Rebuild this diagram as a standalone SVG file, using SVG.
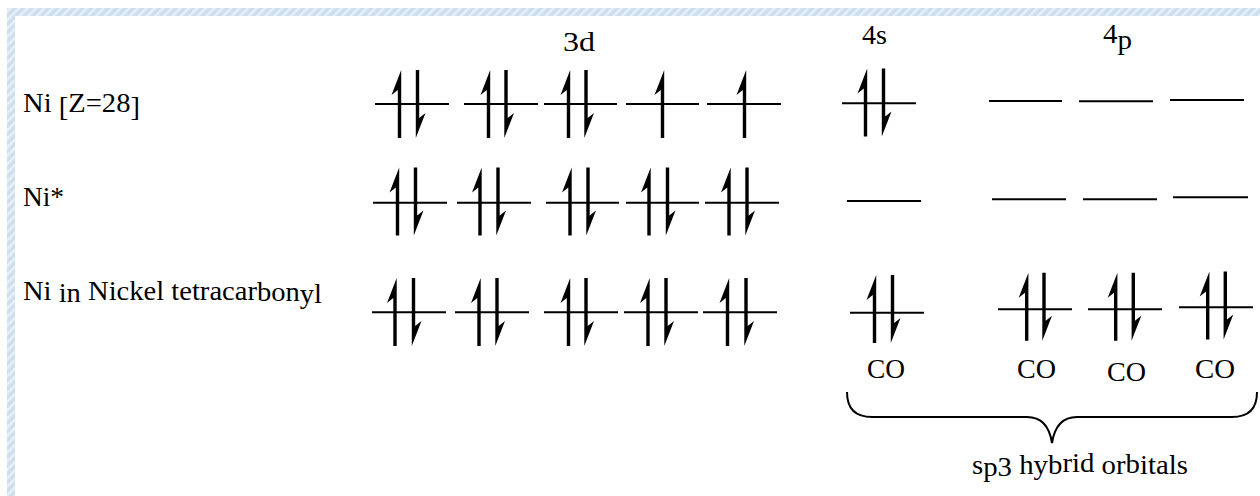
<svg xmlns="http://www.w3.org/2000/svg" width="1260" height="496" viewBox="0 0 1260 496">
<style>
.t{font-family:"Liberation Serif","Times New Roman",serif;font-size:27px;fill:#000}
.lv{stroke:#000;stroke-width:2;fill:none}
.br{stroke:#000;stroke-width:2;fill:none}
</style>
<defs>
<pattern id="hatch" patternUnits="userSpaceOnUse" width="6" height="6" patternTransform="rotate(45)">
<rect width="6" height="6" fill="#cddfee"/>
<rect width="2.5" height="6" fill="#e8f0f8"/>
</pattern>
<path id="up" d="M1.7,-34 L1.7,34 L-1.7,34 L-1.7,-14 L-8,-9 Z" fill="#000"/>
<path id="dn" d="M-1.7,34 L-1.7,-34 L1.7,-34 L1.7,14 L8,9 Z" fill="#000"/>
</defs>
<rect width="1260" height="496" fill="#fff"/>
<rect x="7" y="8" width="1253" height="8" fill="url(#hatch)"/>
<rect x="7" y="8" width="8" height="488" fill="url(#hatch)"/>

<g id="labels">
<text class="t" x="23" y="112" textLength="117" lengthAdjust="spacingAndGlyphs">Ni <tspan dy="4">[</tspan><tspan dy="-4">Z=28</tspan><tspan dy="4">]</tspan></text>
<text class="t" x="23" y="206" textLength="41" lengthAdjust="spacingAndGlyphs">Ni*</text>
<text class="t" x="23" y="300" textLength="299" lengthAdjust="spacingAndGlyphs">Ni <tspan dy="2">in</tspan><tspan dy="-2"> Nickel tetracar</tspan><tspan dy="1">bon</tspan><tspan dy="2">yl</tspan></text>
<text class="t" x="563" y="51" textLength="32" lengthAdjust="spacingAndGlyphs">3d</text>
<text class="t" x="862" y="44" textLength="25" lengthAdjust="spacingAndGlyphs">4s</text>
<text class="t" x="1103" y="43" textLength="29" lengthAdjust="spacingAndGlyphs">4<tspan dy="6">p</tspan></text>
</g>

<g id="row1">
<line class="lv" x1="375" y1="104" x2="449" y2="104"/><use href="#up" x="399.5" y="104"/><use href="#dn" x="417.5" y="104"/>
<line class="lv" x1="464" y1="104" x2="538" y2="104"/><use href="#up" x="488.5" y="104"/><use href="#dn" x="506" y="104"/>
<line class="lv" x1="544" y1="104" x2="617" y2="104"/><use href="#up" x="568.5" y="104"/><use href="#dn" x="586" y="104"/>
<line class="lv" x1="626" y1="104" x2="699" y2="104"/><use href="#up" x="662.5" y="104"/>
<line class="lv" x1="707" y1="104" x2="781" y2="104"/><use href="#up" x="744.5" y="104"/>
<line class="lv" x1="842" y1="103.3" x2="916" y2="103.3"/><use href="#up" x="865.5" y="102.5"/><use href="#dn" x="883.5" y="102.5"/>
<line class="lv" x1="989" y1="101" x2="1062" y2="101"/>
<line class="lv" x1="1079" y1="101.3" x2="1153" y2="101.3"/>
<line class="lv" x1="1170" y1="100" x2="1244" y2="100"/>
</g>

<g id="row2">
<line class="lv" x1="373" y1="202.7" x2="447" y2="202.7"/><use href="#up" x="397.5" y="201.5"/><use href="#dn" x="415.5" y="201.5"/>
<line class="lv" x1="457" y1="202.7" x2="531" y2="202.7"/><use href="#up" x="480" y="201.5"/><use href="#dn" x="498" y="201.5"/>
<line class="lv" x1="546" y1="202.7" x2="619" y2="202.7"/><use href="#up" x="570" y="201.5"/><use href="#dn" x="588" y="201.5"/>
<line class="lv" x1="626" y1="202.7" x2="699" y2="202.7"/><use href="#up" x="649" y="201.5"/><use href="#dn" x="667.5" y="201.5"/>
<line class="lv" x1="705" y1="202.7" x2="779" y2="202.7"/><use href="#up" x="729" y="201.5"/><use href="#dn" x="747" y="201.5"/>
<line class="lv" x1="847" y1="201" x2="921" y2="201"/>
<line class="lv" x1="992" y1="199.3" x2="1066" y2="199.3"/>
<line class="lv" x1="1083" y1="199.3" x2="1157" y2="199.3"/>
<line class="lv" x1="1173" y1="197.3" x2="1248" y2="197.3"/>
</g>

<g id="row3">
<line class="lv" x1="372" y1="312.3" x2="446" y2="312.3"/><use href="#up" x="395" y="312"/><use href="#dn" x="413.5" y="312"/>
<line class="lv" x1="455" y1="312.3" x2="529" y2="312.3"/><use href="#up" x="479" y="312"/><use href="#dn" x="497" y="312"/>
<line class="lv" x1="544" y1="312.3" x2="618" y2="312.3"/><use href="#up" x="568.5" y="312"/><use href="#dn" x="586" y="312"/>
<line class="lv" x1="624" y1="312.3" x2="698" y2="312.3"/><use href="#up" x="648" y="312"/><use href="#dn" x="666" y="312"/>
<line class="lv" x1="703" y1="312.3" x2="777" y2="312.3"/><use href="#up" x="727.5" y="312"/><use href="#dn" x="746" y="312"/>
<line class="lv" x1="850" y1="312.7" x2="924" y2="312.7"/><use href="#up" x="874.5" y="309"/><use href="#dn" x="892.5" y="309"/>
<line class="lv" x1="998" y1="309.3" x2="1072" y2="309.3"/><use href="#up" x="1026.7" y="306.7"/><use href="#dn" x="1044" y="306.7"/>
<line class="lv" x1="1088" y1="309.3" x2="1162" y2="309.3"/><use href="#up" x="1115.7" y="306.7"/><use href="#dn" x="1133.3" y="306.7"/>
<line class="lv" x1="1179" y1="307.3" x2="1253" y2="307.3"/><use href="#up" x="1207.7" y="305.5"/><use href="#dn" x="1225.3" y="305.5"/>
<text class="t" x="867" y="378" textLength="38" lengthAdjust="spacingAndGlyphs">CO</text>
<text class="t" x="1017" y="378" textLength="39" lengthAdjust="spacingAndGlyphs">CO</text>
<text class="t" x="1107" y="381" textLength="39" lengthAdjust="spacingAndGlyphs">CO</text>
<text class="t" x="1195" y="378" textLength="40" lengthAdjust="spacingAndGlyphs">CO</text>
</g>

<g id="connectors">
<path class="br" d="M847,392 Q847,417 872,417 L1027,417 Q1048,417 1052,443 Q1056,417 1077,417 L1232,417 Q1257,417 1257,392"/>
</g>

<g id="hybrid">
<text class="t" x="972" y="474" textLength="216" lengthAdjust="spacingAndGlyphs">s<tspan dy="2">p3</tspan><tspan dy="-2"> hyb</tspan><tspan dy="-2">rid</tspan><tspan dy="2"> or</tspan><tspan dy="-1">b</tspan><tspan dy="1">itals</tspan></text>
</g>
</svg>
